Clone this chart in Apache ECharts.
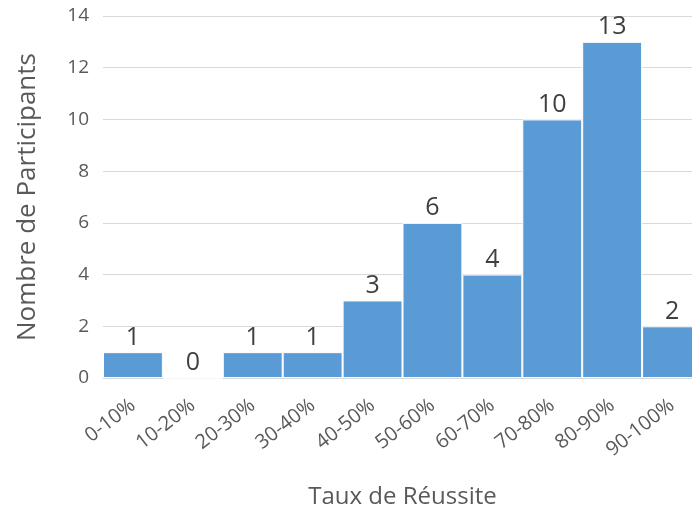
<!DOCTYPE html>
<html>
<head>
<meta charset="utf-8">
<script src="https://cdn.jsdelivr.net/npm/echarts@6/dist/echarts.min.js"></script>
<style>
  html, body { margin: 0; padding: 0; background: #fff; overflow: hidden; }
  /* the plot runs a little past the right edge of the window */
  #chart { width: 702px; height: 519px; }
</style>
</head>
<body>
<div id="chart"></div>
<script>
// Tranches de taux de réussite et effectifs correspondants
const categories = ['0-10%', '10-20%', '20-30%', '30-40%', '40-50%', '50-60%', '60-70%', '70-80%', '80-90%', '90-100%'];
const participants = [1, 0, 1, 1, 3, 6, 4, 10, 13, 2];
const yTicks = { min: 0, max: 14, interval: 2 };

const FONT = '"Open Sans", "Noto Sans", sans-serif';
const chart = echarts.init(document.getElementById('chart'), null, { renderer: 'canvas' });

chart.setOption({
  animation: false,
  textStyle: { fontFamily: FONT },
  grid: { left: 103, right: 0, top: 16, bottom: 141, containLabel: false },
  xAxis: {
    type: 'category',
    data: categories,
    name: 'Taux de Réussite',
    nameLocation: 'middle',
    nameGap: 107,
    nameTextStyle: { fontSize: 24, color: '#595959', fontFamily: FONT },
    axisLine: { show: true, lineStyle: { color: '#d9d9d9', width: 1 } },
    axisTick: { show: false },
    axisLabel: {
      rotate: 38,
      interval: 0,
      fontSize: 20,
      color: '#595959',
      fontFamily: FONT,
      margin: 25
    }
  },
  yAxis: {
    type: 'value',
    min: yTicks.min,
    max: yTicks.max,
    interval: yTicks.interval,
    name: 'Nombre de Participants',
    nameLocation: 'middle',
    nameGap: 62,
    nameTextStyle: { fontSize: 26, color: '#595959', fontFamily: FONT },
    axisLine: { show: false },
    axisTick: { show: false },
    axisLabel: { fontSize: 19, color: '#595959', fontFamily: FONT, margin: 14 },
    splitLine: { lineStyle: { color: '#d9d9d9', width: 1 } }
  },
  series: [{
    type: 'bar',
    data: participants,
    barWidth: '100%',
    barCategoryGap: '0%',
    itemStyle: { color: '#5b9bd5', borderColor: '#ffffff', borderWidth: 1 },
    label: {
      show: true,
      position: 'top',
      distance: 2,
      fontSize: 25,
      color: '#404040',
      fontFamily: FONT
    }
  }]
});
</script>
</body>
</html>
